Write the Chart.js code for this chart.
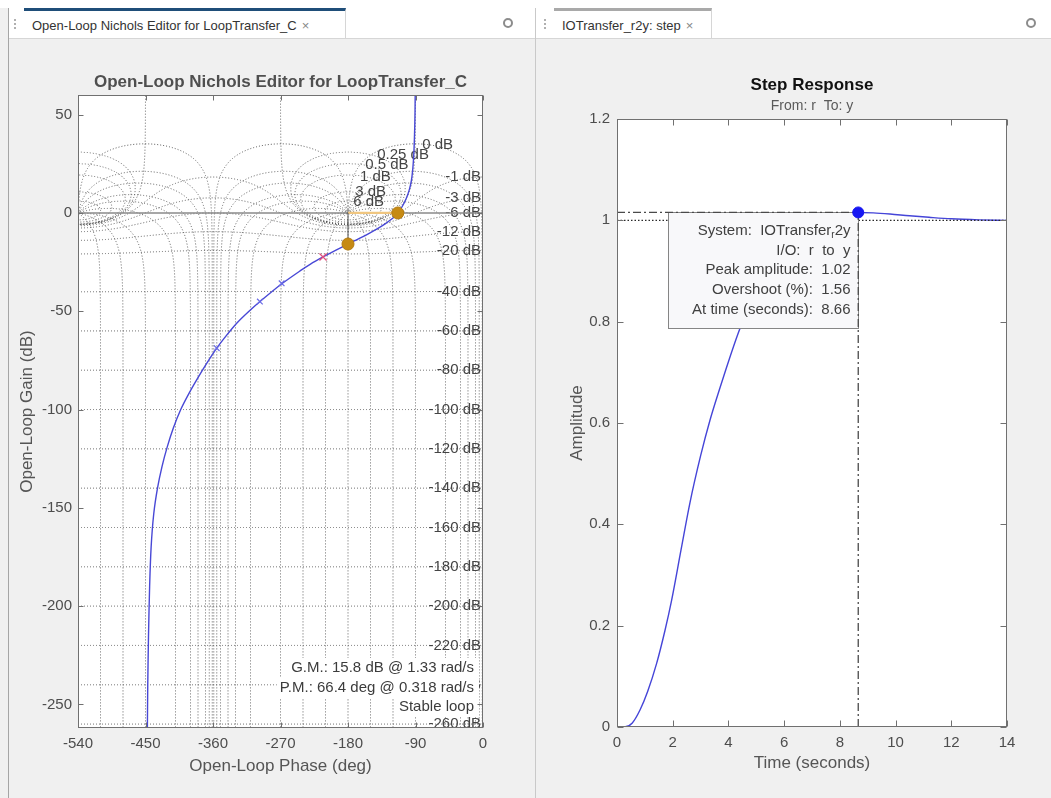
<!DOCTYPE html>
<html lang="en">
<head>
<meta charset="UTF-8">
<title>Nichols Editor / Step Response</title>
<script src="https://cdn.jsdelivr.net/npm/chart.js"></script>
<style>
  html, body { margin: 0; padding: 0; }
  body { width: 1051px; height: 798px; position: relative; overflow: hidden; background: #f0f0f0;
         font-family: "Liberation Sans", Arial, sans-serif; }
  #topWhite { position: absolute; left: 0; top: 0; width: 1051px; height: 8px; background: #fff; }
  .strip { position: absolute; top: 8px; height: 30px; background: #fff; border-bottom: 1px solid #d6d6d6; }
  .tab { position: absolute; top: 0; height: 30px; box-sizing: border-box; padding-left: 8px;
         font-size: 13px; line-height: 29px; color: #333; background: #fff; border-right: 1px solid #d6d6d6;
         white-space: nowrap; }
  .tab .x { color: #888; margin-left: 5px; }
  .grip { position: absolute; top: 11px; width: 2px; height: 12px;
          background: repeating-linear-gradient(#b0b0b0 0 2px, transparent 2px 4px); }
  .gear { position: absolute; top: 10px; width: 6px; height: 6px; border: 2px solid #8c8c8c; border-radius: 50%; }
  #leftEdge { position: absolute; left: 8px; top: 8px; width: 1px; height: 790px; background: #a5a5a5; }
  #divider { position: absolute; left: 535px; top: 8px; width: 1px; height: 790px; background: #c9c9c9; }
  canvas { position: absolute; top: 40px; }
  #nicholsChart { left: 8px; }
  #stepChart { left: 540px; }
</style>
</head>
<body>
<div id="topWhite"></div>
<div class="strip" style="left:9px;width:526px">
  <span class="grip" style="left:5px"></span>
  <div class="tab" style="left:15px;width:322px;border-top:3px solid #1f4e79">Open-Loop Nichols Editor for LoopTransfer_C<span class="x">×</span></div>
  <span class="gear" style="left:494px"></span>
</div>
<div class="strip" style="left:536px;width:515px">
  <span class="grip" style="left:8px"></span>
  <div class="tab" style="left:18px;width:158px;border-top:3px solid #a9a9a9">IOTransfer_r2y: step<span class="x">×</span></div>
  <span class="gear" style="left:490px"></span>
</div>
<div id="leftEdge"></div>
<div id="divider"></div>
<canvas id="nicholsChart" width="524" height="758"></canvas>
<canvas id="stepChart" width="511" height="758"></canvas>
<script>
const FONT = '"Liberation Sans", Arial, sans-serif';

// ---------- Nichols editor ----------
const nicholsPhaseTicks = [-540, -450, -360, -270, -180, -90, 0];
const nicholsGainTicks = [50, 0, -50, -100, -150, -200, -250];

// open-loop response (phase deg, gain dB)
const loopPhase = [-90.4, -90.6, -91.0, -91.6, -92.4, -93.6, -95.5, -98.5, -102.5, -107.5, -113.6,
  -120, -130, -140, -150, -160, -170, -180, -196, -213.3, -230, -244, -270, -295, -312, -328.4,
  -342, -355, -368, -380, -392, -403, -413, -421, -428, -434, -439, -442.5, -444.5, -446, -447, -447.5];
const loopGain = [60, 52, 44, 36, 29, 22.5, 16.5, 11.5, 7.2, 3.4, 0,
  -2.6, -5.4, -7.8, -10.0, -12.1, -14.0, -15.8, -18.9, -22.4, -26.0, -29.5, -36.5, -44.3, -50.0, -56.1,
  -62.3, -68.8, -76.3, -83.8, -91.8, -100, -109.5, -119, -129, -140, -153, -170, -190, -215, -240, -262];

const markPhase = [-355, -297.5, -268.5];
const markGain = [-68.8, -45.1, -35.8];
const compPolePhase = [-213.3];
const compPoleGain = [-22.4];

const gainMarginDb = 15.8, gainMarginFreq = 1.33;
const phaseMarginDeg = 66.4, phaseMarginFreq = 0.318;

// Nichols grid levels (closed-loop gain dB, closed-loop phase deg)
const gridGainLevels = [6, 3, 1, 0.5, 0.25, 0, -1, -3, -6, -12, -20, -40, -60, -80, -100,
  -120, -140, -160, -180, -200, -220, -240, -260];
const gridPhaseLevels = [1, 5, 10, 20, 30, 50, 90, 120, 150, 180];
// where the labels of the closed contours sit (phase, gain)
const upperLabelAt = { '0': [-81, 34.6], '0.25': [-141, 29.5], '0.5': [-157, 24.4],
  '1': [-164, 18.3], '3': [-170.5, 10.8], '6': [-173, 5.7] };

// ---------- step response ----------
const stepTicksX = [0, 2, 4, 6, 8, 10, 12, 14];
const stepTicksY = [0, 0.2, 0.4, 0.6, 0.8, 1, 1.2];
const stepTime = [0, 0.3, 0.55, 0.83, 1.1, 1.42, 1.72, 1.96, 2.3, 2.62, 3.0, 3.34, 3.7, 3.94, 4.35,
  4.8, 5.3, 5.8, 6.3, 6.8, 7.3, 7.8, 8.3, 8.66, 9.2, 9.8, 10.5, 11.2, 12, 13, 14];
const stepAmp = [0, 0.0005, 0.008, 0.034, 0.07, 0.125, 0.19, 0.25, 0.35, 0.443, 0.535, 0.606, 0.67, 0.711, 0.777,
  0.84, 0.895, 0.935, 0.962, 0.98, 0.994, 1.005, 1.0125, 1.0156, 1.0148, 1.0125, 1.009, 1.006, 1.003, 1.001, 1.0];
const peakTime = 8.66, peakAmp = 1.0156, overshootPct = 1.56, finalValue = 1;

const pts = (xs, ys) => xs.map((v, i) => ({ x: v, y: ys[i] }));

// standard Nichols chart contours
function nicholsContours() {
  const D = Math.PI / 180;
  const out = [];
  const toNichols = (re, im) => {
    let ph = Math.atan2(im, re) / D;
    if (ph > 0) ph -= 360;
    return [ph, 10 * Math.log10(re * re + im * im)];
  };
  gridGainLevels.forEach(M => {
    const m = Math.pow(10, M / 20);
    if (M < 0) {
      const p = [];
      for (let th = -540; th <= 0.001; th += 0.25) {
        const c = Math.cos(th * D);
        const g = (m * m * c + Math.sqrt(m ** 4 * c * c + m * m * (1 - m * m))) / (1 - m * m);
        p.push([th, 20 * Math.log10(g)]);
      }
      out.push(p);
      return;
    }
    const base = [];
    if (M === 0) {
      for (let s = 4; s >= -4; s -= 0.01) base.push(toNichols(-0.5, Math.pow(10, s)));
      for (let s = -4; s <= 4; s += 0.01) base.push(toNichols(-0.5, -Math.pow(10, s)));
    } else {
      const c = -m * m / (m * m - 1), r = m / (m * m - 1);
      for (let a = 0; a <= 360; a += 0.05) base.push(toNichols(c + r * Math.cos(a * D), r * Math.sin(a * D)));
    }
    [0, -360].forEach(k => out.push(base.map(([p, g]) => [p + k, g])));
  });
  gridPhaseLevels.forEach(p => {
    (p === 180 ? [180] : [p, -p]).forEach(phi => {
      const cr = Math.cos(phi * D), ci = Math.sin(phi * D);
      const arc = [];
      let s = -14;
      while (s <= 8) {
        const rho = Math.pow(10, s);
        const tr = rho * cr, ti = rho * ci;
        const dr = 1 - tr, di = -ti, den = dr * dr + di * di;
        const lr = (tr * dr + ti * di) / den, li = (ti * dr - tr * di) / den;
        const ph = phi === 180 ? 180 : Math.atan2(li, lr) / D;
        arc.push([ph, 10 * Math.log10(lr * lr + li * li)]);
        const as = Math.abs(s);
        s += as < 0.1 ? 0.0002 : as < 0.5 ? 0.001 : 0.01;
      }
      [-720, -360, 0, 360].forEach(k => out.push(arc.map(([a, g]) => [a + k, g])));
    });
  });
  return out.filter(path => path.some(([a]) => a >= -540 && a <= 0));
}
const gridPaths = nicholsContours();

const nicholsGridPlugin = {
  id: 'nicholsGrid',
  beforeDatasetsDraw(chart) {
    const { ctx, chartArea: a } = chart;
    const x = chart.scales.x, y = chart.scales.y;
    ctx.save();
    ctx.beginPath();
    ctx.rect(a.left, a.top, a.right - a.left, a.bottom - a.top);
    ctx.clip();
    ctx.strokeStyle = '#575757';
    ctx.lineWidth = 1;
    ctx.setLineDash([1, 2]);
    gridPaths.forEach(path => {
      ctx.beginPath();
      path.forEach(([ph, g], i) => {
        const px = x.getPixelForValue(ph), py = y.getPixelForValue(Math.max(g, -2000));
        if (i === 0) ctx.moveTo(px, py); else ctx.lineTo(px, py);
      });
      ctx.stroke();
    });
    ctx.setLineDash([]);
    ctx.font = '15px ' + FONT;
    ctx.fillStyle = '#444444';
    ctx.textBaseline = 'middle';
    gridGainLevels.forEach(M => {
      const label = M + ' dB';
      if (M < 0) {
        const m = Math.pow(10, M / 20);
        ctx.textAlign = 'right';
        ctx.fillText(label, a.right - 2, y.getPixelForValue(20 * Math.log10(m / (1 - m))));
      } else {
        const at = upperLabelAt[String(M)];
        ctx.textAlign = 'left';
        ctx.fillText(label, x.getPixelForValue(at[0]), y.getPixelForValue(at[1]));
      }
    });
    ctx.restore();
  }
};

const marginReadoutPlugin = {
  id: 'marginReadout',
  afterDatasetsDraw(chart) {
    const { ctx, chartArea: a } = chart;
    const lines = [`G.M.: ${gainMarginDb} dB @ ${gainMarginFreq} rad/s`,
                   `P.M.: ${phaseMarginDeg} deg @ ${phaseMarginFreq} rad/s`,
                   'Stable loop'];
    const rows = [a.bottom - 60, a.bottom - 40, a.bottom - 21];
    ctx.save();
    ctx.font = '15px ' + FONT;
    ctx.textAlign = 'right';
    ctx.textBaseline = 'middle';
    const tx = a.right - 9;
    lines.forEach((t, i) => {
      const w = ctx.measureText(t).width;
      ctx.fillStyle = '#ffffff';
      ctx.fillRect(tx - w - 3, rows[i] - 10, w + 8, 20);
    });
    ctx.fillStyle = '#3c3c3c';
    lines.forEach((t, i) => ctx.fillText(t, tx, rows[i]));
    ctx.restore();
  }
};

// MATLAB style axes: white plot box, inside ticks, titles
const matlabFramePlugin = {
  id: 'matlabFrame',
  beforeDatasetsDraw(chart) {
    const { ctx, chartArea: a } = chart;
    ctx.save();
    ctx.fillStyle = '#ffffff';
    ctx.fillRect(a.left, a.top, a.right - a.left, a.bottom - a.top);
    ctx.restore();
  },
  afterDraw(chart, args, o) {
    const { ctx, chartArea: a } = chart;
    const x = chart.scales.x, y = chart.scales.y;
    ctx.save();
    ctx.strokeStyle = '#707070';
    ctx.lineWidth = 1;
    const L = Math.round(a.left) + 0.5, R = Math.round(a.right) - 0.5;
    const T = Math.round(a.top) + 0.5, B = Math.round(a.bottom) - 0.5;
    ctx.strokeRect(L, T, R - L, B - T);
    ctx.beginPath();
    x.ticks.forEach(t => {
      const px = Math.round(x.getPixelForValue(t.value)) + 0.5;
      ctx.moveTo(px, B); ctx.lineTo(px, B - o.tick);
      ctx.moveTo(px, T); ctx.lineTo(px, T + o.tick);
    });
    y.ticks.forEach(t => {
      const py = Math.round(y.getPixelForValue(t.value)) + 0.5;
      ctx.moveTo(L, py); ctx.lineTo(L + o.tick, py);
      ctx.moveTo(R, py); ctx.lineTo(R - o.tick, py);
    });
    ctx.stroke();
    const cx = (a.left + a.right) / 2, cy = (a.top + a.bottom) / 2;
    ctx.textAlign = 'center';
    ctx.textBaseline = 'middle';
    ctx.fillStyle = o.titleColor;
    ctx.font = 'bold 17px ' + FONT;
    ctx.fillText(o.title, cx, a.top + o.titleDy);
    if (o.subtitle) {
      ctx.font = '14px ' + FONT;
      ctx.fillStyle = '#5a5a5a';
      ctx.fillText(o.subtitle, cx, a.top + o.subtitleDy);
    }
    ctx.font = '17px ' + FONT;
    ctx.fillStyle = '#555555';
    ctx.fillText(o.xLabel, cx, a.bottom + o.xLabelDy);
    ctx.translate(a.left + o.yLabelDx, cy);
    ctx.rotate(-Math.PI / 2);
    ctx.fillText(o.yLabel, 0, 0);
    ctx.restore();
  }
};

const tickFont = { family: FONT, size: 15 };
const tickColor = '#4d4d4d';

function axis(min, max, tickValues, fitSize, horizontal, pad) {
  return {
    type: 'linear', min, max,
    afterBuildTicks: s => { s.ticks = tickValues.map(v => ({ value: v })); },
    afterFit: s => { if (horizontal) s.height = fitSize; else s.width = fitSize; },
    ticks: { color: tickColor, font: tickFont, padding: pad, autoSkip: false, maxRotation: 0,
             callback: v => String(Math.round(v * 1000) / 1000) },
    grid: { display: false, drawTicks: false },
    border: { display: false }
  };
}

new Chart(document.getElementById('nicholsChart'), {
  type: 'scatter',
  data: {
    datasets: [
      { data: [{ x: -180, y: -gainMarginDb }, { x: -180 + phaseMarginDeg, y: 0 }],
        pointStyle: 'circle', pointRadius: 6, backgroundColor: '#c68a14', borderColor: '#b57c10', borderWidth: 1 },
      { data: pts(compPolePhase, compPoleGain), pointStyle: 'crossRot', pointRadius: 5,
        borderColor: '#e0507c', borderWidth: 1.3 },
      { data: pts(markPhase, markGain), pointStyle: 'crossRot', pointRadius: 4,
        borderColor: '#6a6ae6', borderWidth: 1.2 },
      { data: pts(loopPhase, loopGain), showLine: true, pointRadius: 0, borderColor: '#4848d6',
        borderWidth: 1.4, tension: 0.25 },
      { data: [{ x: -180, y: -gainMarginDb }, { x: -180, y: 0 }], showLine: true, pointRadius: 0,
        borderColor: '#555555', borderWidth: 1 },
      { data: [{ x: -180, y: 0 }, { x: -180 + phaseMarginDeg, y: 0 }], showLine: true, pointRadius: 0,
        borderColor: '#f0c680', borderWidth: 2.2 },
      { data: [{ x: -540, y: 0 }, { x: 0, y: 0 }], showLine: true, pointRadius: 0,
        borderColor: '#8a8a8a', borderWidth: 1.5 }
    ]
  },
  options: {
    responsive: false, animation: false, events: [], devicePixelRatio: 1,
    layout: { padding: { left: 0, right: 49, top: 55, bottom: 0 } },
    scales: {
      x: axis(-540, 0, nicholsPhaseTicks, 70, true, 7),
      y: axis(-262, 60, nicholsGainTicks, 70, false, 6)
    },
    plugins: {
      legend: { display: false }, tooltip: { enabled: false },
      matlabFrame: { tick: 5, title: 'Open-Loop Nichols Editor for LoopTransfer_C', titleColor: '#4f4f4f',
        titleDy: -13, xLabel: 'Open-Loop Phase (deg)', xLabelDy: 38,
        yLabel: 'Open-Loop Gain (dB)', yLabelDx: -51 }
    }
  },
  plugins: [matlabFramePlugin, nicholsGridPlugin, marginReadoutPlugin]
});

// ---------- step chart ----------
const datatipPlugin = {
  id: 'peakDatatip',
  afterDatasetDraw(chart, args) {
    if (args.index !== 3) return;
    const { ctx } = chart;
    const x = chart.scales.x, y = chart.scales.y;
    const right = Math.round(x.getPixelForValue(peakTime)) + 0.5;
    const top = Math.round(y.getPixelForValue(peakAmp)) + 0.5;
    const w = 190, h = 116;
    ctx.save();
    ctx.fillStyle = '#f8f8fa';
    ctx.strokeStyle = '#858585';
    ctx.lineWidth = 1;
    ctx.fillRect(right - w, top, w, h);
    ctx.strokeRect(right - w, top, w, h);
    ctx.fillStyle = '#404040';
    ctx.textAlign = 'right';
    ctx.textBaseline = 'middle';
    const tx = right - 8;
    const rowY = i => top + 18.5 + i * 19.6;
    const big = '15px ' + FONT, small = '10px ' + FONT;
    // "System:  IOTransfer_r2y" with r as a subscript
    ctx.font = big;
    ctx.fillText('2y', tx, rowY(0));
    const w1 = ctx.measureText('2y').width;
    ctx.font = small;
    ctx.fillText('r', tx - w1, rowY(0) + 4);
    const w2 = ctx.measureText('r').width;
    ctx.font = big;
    ctx.fillText('System:  IOTransfer', tx - w1 - w2, rowY(0));
    const rows = ['I/O:  r  to  y',
                  `Peak amplitude:  ${peakAmp.toFixed(2)}`,
                  `Overshoot (%):  ${overshootPct.toFixed(2)}`,
                  `At time (seconds):  ${peakTime.toFixed(2)}`];
    rows.forEach((t, i) => ctx.fillText(t, tx, rowY(i + 1)));
    ctx.restore();
  }
};

new Chart(document.getElementById('stepChart'), {
  type: 'scatter',
  data: {
    datasets: [
      { data: [{ x: peakTime, y: peakAmp }], pointRadius: 5.5, backgroundColor: '#1717f2', borderColor: '#1717f2' },
      { data: [{ x: 0, y: peakAmp }, { x: peakTime, y: peakAmp }], showLine: true, pointRadius: 0,
        borderColor: '#4a4a4a', borderWidth: 1.3, borderDash: [8, 3, 2, 3] },
      { data: [{ x: peakTime, y: 0 }, { x: peakTime, y: peakAmp }], showLine: true, pointRadius: 0,
        borderColor: '#4a4a4a', borderWidth: 1.3, borderDash: [8, 3, 2, 3] },
      { data: [{ x: 0, y: finalValue }, { x: 14, y: finalValue }], showLine: true, pointRadius: 0,
        borderColor: '#2a2a2a', borderWidth: 1.2, borderDash: [1.5, 2] },
      { data: pts(stepTime, stepAmp), showLine: true, pointRadius: 0, borderColor: '#4545d8',
        borderWidth: 1.4, cubicInterpolationMode: 'monotone' }
    ]
  },
  options: {
    responsive: false, animation: false, events: [], devicePixelRatio: 1,
    layout: { padding: { left: 0, right: 44, top: 79, bottom: 0 } },
    scales: {
      x: axis(0, 14, stepTicksX, 71, true, 7),
      y: axis(0, 1.2, stepTicksY, 77, false, 7)
    },
    plugins: {
      legend: { display: false }, tooltip: { enabled: false },
      matlabFrame: { tick: 6, title: 'Step Response', titleColor: '#111111', titleDy: -34,
        subtitle: 'From: r  To: y', subtitleDy: -13,
        xLabel: 'Time (seconds)', xLabelDy: 36, yLabel: 'Amplitude', yLabelDx: -40 }
    }
  },
  plugins: [matlabFramePlugin, datatipPlugin]
});
</script>
</body>
</html>
